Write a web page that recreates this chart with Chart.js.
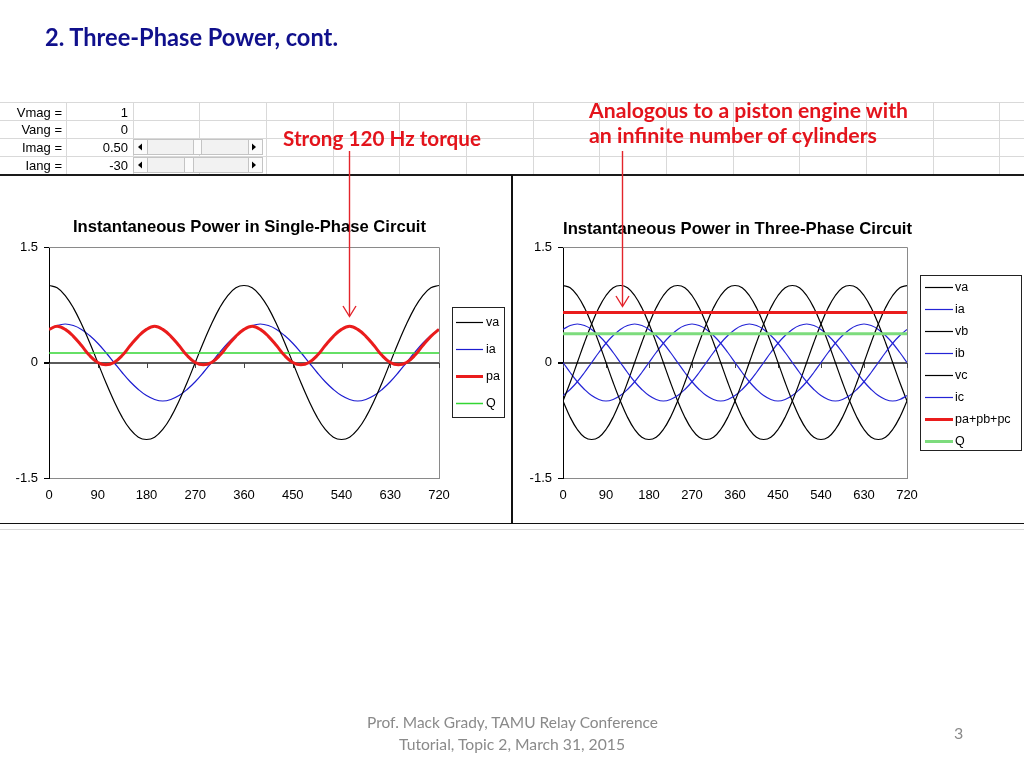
<!DOCTYPE html>
<html>
<head>
<meta charset="utf-8">
<title>Three-Phase Power, cont.</title>
<script src="https://cdn.jsdelivr.net/npm/chart.js@4.4.1/dist/chart.umd.min.js"></script>
<style>
  html, body { margin: 0; padding: 0; background: #fff; overflow: hidden; }
  #slide { position: relative; width: 1024px; height: 768px; }
  canvas { position: absolute; }
  #chartSingle { left: 0; top: 185px; }
  #chartThree { left: 514px; top: 185px; }
  #overlay { position: absolute; left: 0; top: 0; pointer-events: none; }
</style>
</head>
<body>
<div id="slide">
  <canvas id="chartSingle" width="510" height="330"></canvas>
  <canvas id="chartThree" width="510" height="330"></canvas>

  <svg id="overlay" width="1024" height="768">
    <!-- spreadsheet grid -->
    <g stroke="#d9d9d9" stroke-width="1">
      <line x1="0" y1="102.5" x2="1024" y2="102.5"/>
      <line x1="0" y1="120.5" x2="1024" y2="120.5"/>
      <line x1="0" y1="138.5" x2="1024" y2="138.5"/>
      <line x1="0" y1="156.5" x2="1024" y2="156.5"/>
      <line x1="66.5" y1="102" x2="66.5" y2="174"/>
      <line x1="133.5" y1="102" x2="133.5" y2="174"/>
      <line x1="199.5" y1="102" x2="199.5" y2="174"/>
      <line x1="266.5" y1="102" x2="266.5" y2="174"/>
      <line x1="333.5" y1="102" x2="333.5" y2="174"/>
      <line x1="399.5" y1="102" x2="399.5" y2="174"/>
      <line x1="466.5" y1="102" x2="466.5" y2="174"/>
      <line x1="533.5" y1="102" x2="533.5" y2="174"/>
      <line x1="599.5" y1="102" x2="599.5" y2="174"/>
      <line x1="666.5" y1="102" x2="666.5" y2="174"/>
      <line x1="733.5" y1="102" x2="733.5" y2="174"/>
      <line x1="799.5" y1="102" x2="799.5" y2="174"/>
      <line x1="866.5" y1="102" x2="866.5" y2="174"/>
      <line x1="933.5" y1="102" x2="933.5" y2="174"/>
      <line x1="999.5" y1="102" x2="999.5" y2="174"/>
      <line x1="0" y1="529.5" x2="1024" y2="529.5"/>
    </g>
    <line x1="0" y1="175" x2="1024" y2="175" stroke="#1a1a1a" stroke-width="2"/>
    <line x1="0" y1="523.5" x2="1024" y2="523.5" stroke="#111" stroke-width="1"/>
    <line x1="512" y1="175" x2="512" y2="523" stroke="#111" stroke-width="2"/>

    <!-- input cells -->
    <g font-family="'Liberation Sans', Arial, sans-serif" font-size="13" fill="#000">
      <text x="62" y="117" text-anchor="end">Vmag =</text>
      <text x="62" y="134" text-anchor="end">Vang =</text>
      <text x="62" y="152" text-anchor="end">Imag =</text>
      <text x="62" y="170" text-anchor="end">Iang =</text>
      <text x="128" y="117" text-anchor="end">1</text>
      <text x="128" y="134" text-anchor="end">0</text>
      <text x="128" y="152" text-anchor="end">0.50</text>
      <text x="128" y="170" text-anchor="end">-30</text>
    </g>

    <!-- scroll bars -->
    <g stroke="#c4c4c4" stroke-width="1">
      <rect x="133.5" y="139.5" width="129" height="15" fill="#f2f2f2"/>
      <rect x="133.5" y="139.5" width="14" height="15" fill="#fbfbfb"/>
      <rect x="248.5" y="139.5" width="14" height="15" fill="#fbfbfb"/>
      <rect x="193.5" y="139.5" width="8" height="15" fill="#fbfbfb"/>
      <rect x="133.5" y="157.5" width="129" height="15" fill="#f2f2f2"/>
      <rect x="133.5" y="157.5" width="14" height="15" fill="#fbfbfb"/>
      <rect x="248.5" y="157.5" width="14" height="15" fill="#fbfbfb"/>
      <rect x="184.5" y="157.5" width="9" height="15" fill="#fbfbfb"/>
    </g>
    <g fill="#000">
      <path d="M138 147 L142 143.5 L142 150.5 Z"/>
      <path d="M256 147 L252 143.5 L252 150.5 Z"/>
      <path d="M138 165 L142 161.5 L142 168.5 Z"/>
      <path d="M256 165 L252 161.5 L252 168.5 Z"/>
    </g>

    <!-- chart titles -->
    <g font-family="'Liberation Sans', Arial, sans-serif" font-weight="700" font-size="16.5" fill="#000">
      <text x="73" y="232" textLength="353" lengthAdjust="spacingAndGlyphs">Instantaneous Power in Single-Phase Circuit</text>
      <text x="563" y="234" textLength="349" lengthAdjust="spacingAndGlyphs">Instantaneous Power in Three-Phase Circuit</text>
    </g>

    <!-- annotations -->
    <g font-family="Lato, 'Open Sans', sans-serif" font-weight="700" font-size="20" fill="#e3141c">
      <text x="283" y="146" textLength="198" lengthAdjust="spacingAndGlyphs">Strong 120 Hz torque</text>
      <text x="589" y="118" textLength="319" lengthAdjust="spacingAndGlyphs">Analogous to a piston engine with</text>
      <text x="589" y="143" textLength="288" lengthAdjust="spacingAndGlyphs">an infinite number of cylinders</text>
    </g>
    <g stroke="#e3242b" stroke-width="1.4" fill="none">
      <line x1="349.5" y1="151" x2="349.5" y2="316"/>
      <polyline points="343,306 349.5,316.5 356,306"/>
      <line x1="622.5" y1="151" x2="622.5" y2="306"/>
      <polyline points="616,296 622.5,306.5 629,296"/>
    </g>

    <!-- slide title and footer -->
    <text x="45" y="46" font-family="Lato, 'Open Sans', sans-serif" font-weight="700" font-size="24" fill="#10108c" textLength="293" lengthAdjust="spacingAndGlyphs">2. Three-Phase Power, cont.</text>
    <g font-family="Lato, 'Open Sans', sans-serif" font-size="16" fill="#8a8a8a">
      <text x="367" y="728" textLength="291" lengthAdjust="spacingAndGlyphs">Prof. Mack Grady, TAMU Relay Conference</text>
      <text x="399" y="750" textLength="226" lengthAdjust="spacingAndGlyphs">Tutorial, Topic 2, March 31, 2015</text>
      <text x="954" y="739">3</text>
    </g>
  </svg>
</div>

<script>
// angle axis (degrees) and waveform values
const angles = [0,15,30,45,60,75,90,105,120,135,150,165,180,195,210,225,240,255,270,285,300,315,330,345,
    360,375,390,405,420,435,450,465,480,495,510,525,540,555,570,585,600,615,630,645,660,675,690,705,720];

const va = [1,0.97,0.87,0.71,0.5,0.26,0,-0.26,-0.5,-0.71,-0.87,-0.97,-1,-0.97,-0.87,-0.71,-0.5,-0.26,0,0.26,0.5,0.71,0.87,0.97,
    1,0.97,0.87,0.71,0.5,0.26,0,-0.26,-0.5,-0.71,-0.87,-0.97,-1,-0.97,-0.87,-0.71,-0.5,-0.26,0,0.26,0.5,0.71,0.87,0.97,1];
const ia = [0.43,0.48,0.5,0.48,0.43,0.35,0.25,0.13,0,-0.13,-0.25,-0.35,-0.43,-0.48,-0.5,-0.48,-0.43,-0.35,-0.25,-0.13,0,0.13,0.25,0.35,
    0.43,0.48,0.5,0.48,0.43,0.35,0.25,0.13,0,-0.13,-0.25,-0.35,-0.43,-0.48,-0.5,-0.48,-0.43,-0.35,-0.25,-0.13,0,0.13,0.25,0.35,0.43];
const pa = [0.43,0.47,0.43,0.34,0.22,0.09,0,-0.03,0,0.09,0.22,0.34,
    0.43,0.47,0.43,0.34,0.22,0.09,0,-0.03,0,0.09,0.22,0.34,
    0.43,0.47,0.43,0.34,0.22,0.09,0,-0.03,0,0.09,0.22,0.34,
    0.43,0.47,0.43,0.34,0.22,0.09,0,-0.03,0,0.09,0.22,0.34,0.43];
const vb = [-0.5,-0.26,0,0.26,0.5,0.71,0.87,0.97,1,0.97,0.87,0.71,0.5,0.26,0,-0.26,-0.5,-0.71,-0.87,-0.97,-1,-0.97,-0.87,-0.71,
    -0.5,-0.26,0,0.26,0.5,0.71,0.87,0.97,1,0.97,0.87,0.71,0.5,0.26,0,-0.26,-0.5,-0.71,-0.87,-0.97,-1,-0.97,-0.87,-0.71,-0.5];
const ib = [-0.43,-0.35,-0.25,-0.13,0,0.13,0.25,0.35,0.43,0.48,0.5,0.48,0.43,0.35,0.25,0.13,0,-0.13,-0.25,-0.35,-0.43,-0.48,-0.5,-0.48,
    -0.43,-0.35,-0.25,-0.13,0,0.13,0.25,0.35,0.43,0.48,0.5,0.48,0.43,0.35,0.25,0.13,0,-0.13,-0.25,-0.35,-0.43,-0.48,-0.5,-0.48,-0.43];
const vc = [-0.5,-0.71,-0.87,-0.97,-1,-0.97,-0.87,-0.71,-0.5,-0.26,0,0.26,0.5,0.71,0.87,0.97,1,0.97,0.87,0.71,0.5,0.26,0,-0.26,
    -0.5,-0.71,-0.87,-0.97,-1,-0.97,-0.87,-0.71,-0.5,-0.26,0,0.26,0.5,0.71,0.87,0.97,1,0.97,0.87,0.71,0.5,0.26,0,-0.26,-0.5];
const ic = [0,-0.13,-0.25,-0.35,-0.43,-0.48,-0.5,-0.48,-0.43,-0.35,-0.25,-0.13,0,0.13,0.25,0.35,0.43,0.48,0.5,0.48,0.43,0.35,0.25,0.13,
    0,-0.13,-0.25,-0.35,-0.43,-0.48,-0.5,-0.48,-0.43,-0.35,-0.25,-0.13,0,0.13,0.25,0.35,0.43,0.48,0.5,0.48,0.43,0.35,0.25,0.13,0];

// flat lines: end points only
const flatAngles = [0, 720];
const qSingle = [0.125, 0.125];
const pTotal = [0.65, 0.65];
const qTotal = [0.375, 0.375];

const yTicks = [-1.5, 0, 1.5];

Chart.defaults.font.family = '"Liberation Sans", Arial, sans-serif';
Chart.defaults.color = '#000';

function pts(xs, ys) {
    return xs.map((x, i) => ({ x: x, y: ys[i] }));
}

function series(label, xs, ys, color, width, order) {
    return {
        label: label,
        data: pts(xs, ys),
        borderColor: color,
        backgroundColor: color,
        borderWidth: width,
        pointRadius: 0,
        tension: 0.4,
        fill: false,
        order: order
    };
}

// Excel-style boxed legend drawn from the datasets
const boxLegend = {
    id: 'boxLegend',
    afterDraw(chart, args, opts) {
        const ctx = chart.ctx;
        ctx.save();
        ctx.fillStyle = '#fff';
        ctx.fillRect(opts.x, opts.y, opts.w, opts.h);
        ctx.strokeStyle = '#222';
        ctx.lineWidth = 1;
        ctx.strokeRect(opts.x + 0.5, opts.y + 0.5, opts.w, opts.h);
        ctx.font = '12.5px "Liberation Sans", Arial, sans-serif';
        ctx.textBaseline = 'middle';
        chart.data.datasets.forEach((ds, i) => {
            const y = opts.top + i * opts.gap;
            ctx.strokeStyle = ds.borderColor;
            ctx.lineWidth = ds.borderWidth;
            ctx.beginPath();
            ctx.moveTo(opts.lineX0, y + 0.5);
            ctx.lineTo(opts.lineX1, y + 0.5);
            ctx.stroke();
            ctx.fillStyle = '#000';
            ctx.fillText(ds.label, opts.textX, y + 1);
        });
        ctx.restore();
    }
};

// plot area frame and tick marks on the zero line
const plotFrame = {
    id: 'plotFrame',
    beforeDatasetsDraw(chart) {
        const ctx = chart.ctx;
        const a = chart.chartArea;
        const xs = chart.scales.x;
        const y0 = Math.round(chart.scales.y.getPixelForValue(0));
        ctx.save();
        ctx.strokeStyle = '#8a8a8a';
        ctx.lineWidth = 1;
        ctx.beginPath();
        ctx.moveTo(a.left, a.top + 0.5);
        ctx.lineTo(a.right + 0.5, a.top + 0.5);
        ctx.lineTo(a.right + 0.5, a.bottom);
        ctx.stroke();
        ctx.strokeStyle = '#444';
        xs.ticks.forEach(t => {
            const px = Math.round(xs.getPixelForValue(t.value)) + 0.5;
            ctx.beginPath();
            ctx.moveTo(px, y0);
            ctx.lineTo(px, y0 + 5);
            ctx.stroke();
        });
        ctx.restore();
    }
};

function makeOptions(padLeft, padRight, legendOpts) {
    return {
        responsive: false,
        animation: false,
        layout: { padding: { left: padLeft, right: padRight, top: 62, bottom: 7 } },
        plugins: {
            legend: { display: false },
            title: { display: false },
            tooltip: { enabled: false },
            boxLegend: legendOpts
        },
        scales: {
            x: {
                type: 'linear',
                min: 0,
                max: 720,
                afterFit: s => { s.height = 30; },
                grid: { display: false, drawTicks: false },
                border: { color: '#8a8a8a' },
                ticks: { stepSize: 90, autoSkip: false, maxRotation: 0, padding: 10, font: { size: 13 } }
            },
            y: {
                min: yTicks[0],
                max: yTicks[2],
                afterFit: s => { s.width = 40; },
                afterBuildTicks: s => { s.ticks = yTicks.map(v => ({ value: v })); },
                grid: {
                    color: c => (c.tick && c.tick.value === 0) ? '#5a5a5a' : 'rgba(0,0,0,0)',
                    lineWidth: c => (c.tick && c.tick.value === 0) ? 2 : 1,
                    tickColor: '#000',
                    tickLength: 5
                },
                border: { color: '#000' },
                ticks: { padding: 6, font: { size: 13 } }
            }
        }
    };
}

new Chart(document.getElementById('chartSingle'), {
    type: 'line',
    data: {
        datasets: [
            series('va', angles, va, '#000000', 1.2, 2),
            series('ia', angles, ia, '#1c1cd0', 1.2, 2),
            series('pa', angles, pa, '#ea1c1c', 3, 0),
            series('Q', flatAngles, qSingle, '#33d633', 1.5, 1)
        ]
    },
    options: makeOptions(9, 71, { x: 452, y: 122, w: 52, h: 110, top: 137, gap: 27, lineX0: 456, lineX1: 483, textX: 486 }),
    plugins: [plotFrame, boxLegend]
});

new Chart(document.getElementById('chartThree'), {
    type: 'line',
    data: {
        datasets: [
            series('va', angles, va, '#000000', 1.2, 2),
            series('ia', angles, ia, '#2424d6', 1.2, 2),
            series('vb', angles, vb, '#000000', 1.2, 2),
            series('ib', angles, ib, '#2424d6', 1.2, 2),
            series('vc', angles, vc, '#000000', 1.2, 2),
            series('ic', angles, ic, '#2424d6', 1.2, 2),
            series('pa+pb+pc', flatAngles, pTotal, '#ea1c1c', 3, 0),
            series('Q', flatAngles, qTotal, '#7ddc7d', 3, 1)
        ]
    },
    options: makeOptions(9, 117, { x: 406, y: 90, w: 101, h: 175, top: 102, gap: 22, lineX0: 411, lineX1: 439, textX: 441 }),
    plugins: [plotFrame, boxLegend]
});
</script>
</body>
</html>
